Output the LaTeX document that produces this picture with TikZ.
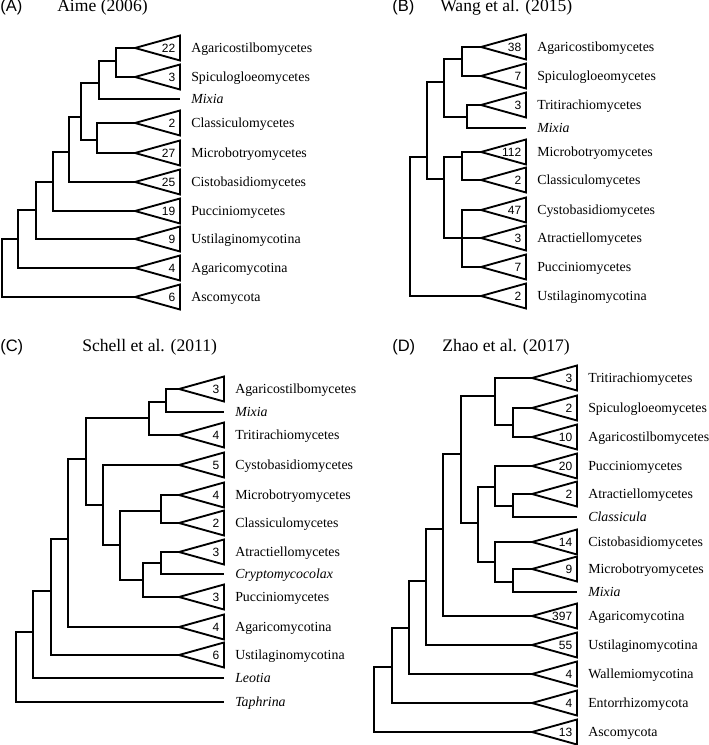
\documentclass[tikz,border=0pt]{standalone}
\usepackage{fontspec}
\setmainfont{Liberation Serif}
\setsansfont{Liberation Sans}
\usepackage{tikz}

\tikzset{
  branch/.style={line width=1.4pt},
  clade/.style={line width=1.4pt},
  count/.style={font=\sffamily\fontsize{9}{9}\selectfont, anchor=east, inner sep=0pt},
  taxon/.style={font=\fontsize{10.4}{12}\selectfont, anchor=base west, inner sep=0pt},
  panel/.style={font=\sffamily\fontsize{12.4}{14}\selectfont, anchor=base west, inner sep=0pt},
  source/.style={font=\fontsize{13.2}{15}\selectfont, anchor=base west, inner sep=0pt}
}

\begin{document}
\begin{tikzpicture}[x=0.75pt,y=-0.75pt]
  \useasboundingbox (0,0) rectangle (709,745);

  % Panel headings
  \node[panel] (pA) at (0,12) {(A)};
  \node[source] (tA) at (57,12) {Aime (2006)};
  \node[panel] (pB) at (392,12) {(B)};
  \node[source] (tB) at (440,12) {Wang et al. (2015)};
  \node[panel] (pC) at (0,351) {(C)};
  \node[source] (tC) at (82,351) {Schell et al. (2011)};
  \node[panel] (pD) at (392,351) {(D)};
  \node[source] (tD) at (442,351) {Zhao et al. (2017)};

  % Collapsed clades: name/base x/y/count/label
  \foreach \nm/\x/\y/\cnt/\lab in {
      aAg/180/48/22/Agaricostilbomycetes, aSp/180/77/3/Spiculogloeomycetes,
      aCl/180/123/2/Classiculomycetes, aMi/180/153/27/Microbotryomycetes,
      aCi/180/182/25/Cistobasidiomycetes, aPu/180/211/19/Pucciniomycetes,
      aUs/180/239/9/Ustilaginomycotina, aAm/180/268/4/Agaricomycotina,
      aAs/180/297/6/Ascomycota,
      bAg/526/47/38/Agaricostibomycetes, bSp/526/76/7/Spiculogloeomycetes,
      bTr/526/105/3/Tritirachiomycetes, bMi/526/152/112/Microbotryomycetes,
      bCl/526/180/2/Classiculomycetes, bCy/526/210/47/Cystobasidiomycetes,
      bAt/526/238/3/Atractiellomycetes, bPu/526/267/7/Pucciniomycetes,
      bUs/526/296/2/Ustilaginomycotina,
      cAg/224/389/3/Agaricostilbomycetes, cTr/224/435/4/Tritirachiomycetes,
      cCy/224/465/5/Cystobasidiomycetes, cMi/224/495/4/Microbotryomycetes,
      cCl/224/523/2/Classiculomycetes, cAt/224/552/3/Atractiellomycetes,
      cPu/224/597/3/Pucciniomycetes, cAm/224/627/4/Agaricomycotina,
      cUs/224/655/6/Ustilaginomycotina,
      dTr/577/378/3/Tritirachiomycetes, dSp/577/408/2/Spiculogloeomycetes,
      dAg/577/437/10/Agaricostilbomycetes, dPu/577/466/20/Pucciniomycetes,
      dAt/577/494/2/Atractiellomycetes, dCi/577/542/14/Cistobasidiomycetes,
      dMi/577/569/9/Microbotryomycetes, dAm/577/616/397/Agaricomycotina,
      dUs/577/645/55/Ustilaginomycotina, dWa/577/674/4/Wallemiomycotina,
      dEn/577/703/4/Entorrhizomycota, dAs/577/732/13/Ascomycota}{
    \draw[clade] (\x,\y-12.5) -- (\x-45,\y) coordinate (\nm) -- (\x,\y+12.5) -- cycle;
    \node[count] (\nm-n) at (\x-4.5,\y) {\cnt};
    \node[taxon] (\nm-l) at (\x+11,\y+4.5) {\lab};
  }

  % Single taxa
  \foreach \nm/\x/\y/\lab in {
      aMix/180/99/Mixia, bMix/526/128/Mixia, cMix/224/412/Mixia,
      cCr/224/574/Cryptomycocolax, cLe/224/678/Leotia, cTa/224/702/Taphrina,
      dCla/577/517/Classicula, dMix/577/592/Mixia}{
    \coordinate (\nm) at (\x,\y);
    \node[taxon] (\nm-l) at (\x+11,\y+4.5) {\textit{\lab}};
  }

  % Internal nodes
  \foreach \nm/\x/\y in {
      a1/116/61, a2/99/83, a3/97/140, a4/81/117, a5/69/152,
      a6/53/182, a7/36/210, a8/18/239, a9/2/268,
      b1/462/59, b2/467/117, b3/444/82, b4/427/157, b5/462/157,
      b6/462/238, b7/444/179, b0/410/226,
      c1/166/402, c2/149/418, c3/103/505, c4/86/459, c5/161/511, c6/161/563,
      c7/143/580, c8/120/545, c9/68/539, c10/51/591, c11/33/632, c12/16/667,
      d1/513/425, d2/495/396, d3/513/506, d4/495/487, d5/513/582, d6/495/562,
      d7/478/523, d8/461/454, d9/443/529, d10/426/581, d11/409/628,
      d12/392/667, d13/374/700}{
    \coordinate (\nm) at (\x,\y);
  }

  % Branches parent -> child
  \foreach \p/\c in {
      a1/aAg, a1/aSp, a2/a1, a2/aMix, a3/aCl, a3/aMi, a4/a2, a4/a3, a5/a4, a5/aCi,
      a6/a5, a6/aPu, a7/a6, a7/aUs, a8/a7, a8/aAm, a9/a8, a9/aAs,
      b1/bAg, b1/bSp, b2/bTr, b2/bMix, b3/b1, b3/b2, b5/bMi, b5/bCl,
      b6/bCy, b6/bAt, b6/bPu, b7/b5, b7/b6, b4/b3, b4/b7, b0/b4, b0/bUs,
      c1/cAg, c1/cMix, c2/c1, c2/cTr, c5/cMi, c5/cCl, c6/cAt, c6/cCr,
      c7/c6, c7/cPu, c8/c5, c8/c7, c3/cCy, c3/c8, c4/c2, c4/c3, c9/c4, c9/cAm,
      c10/c9, c10/cUs, c11/c10, c11/cLe, c12/c11, c12/cTa,
      d1/dSp, d1/dAg, d2/dTr, d2/d1, d3/dAt, d3/dCla, d4/dPu, d4/d3,
      d5/dMi, d5/dMix, d6/dCi, d6/d5, d7/d4, d7/d6, d8/d2, d8/d7, d9/d8, d9/dAm,
      d10/d9, d10/dUs, d11/d10, d11/dWa, d12/d11, d12/dEn, d13/d12, d13/dAs}{
    \draw[branch] (\p) |- (\c);
  }
\end{tikzpicture}
\end{document}
